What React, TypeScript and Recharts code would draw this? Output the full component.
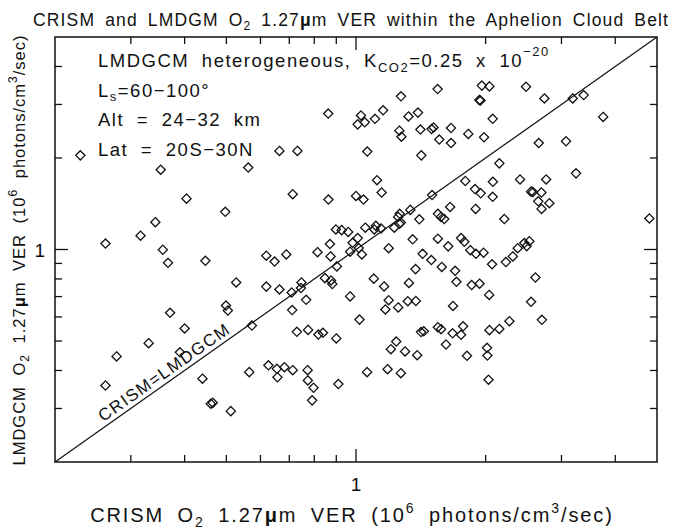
import { ReferenceArea, ReferenceLine, Scatter, ScatterChart, XAxis, YAxis } from "recharts";

// CRISM O2 1.27um VER (x) and LMDGCM VER (y), 10^6 photons/cm3/sec
const crismVer = [
  0.229, 0.352, 0.562, 0.664, 0.731, 0.862, 0.404, 0.497, 0.713, 0.863,
  0.342, 0.316, 0.898, 0.926, 0.959, 0.262, 0.356, 0.366, 0.447, 0.527,
  0.619, 0.647, 0.689, 0.814, 0.87, 0.873, 0.982, 0.969, 0.903, 0.847,
  0.875, 0.881, 0.747, 0.745, 0.709, 0.766, 0.619, 0.664, 0.711, 0.969,
  0.499, 0.504, 0.37, 0.4, 0.573, 0.729, 0.774, 0.818, 0.838, 0.9,
  0.33, 0.39, 0.278, 0.262, 0.44, 0.46, 0.465, 0.512, 0.565, 0.626,
  0.655, 0.682, 0.657, 0.713, 0.772, 0.773, 0.797, 0.791, 0.91,
  1.547, 1.272, 1.027, 1.009, 1.048, 1.107, 1.156, 1.324, 1.393, 1.261,
  1.275, 1.411, 1.498, 1.514, 1.662, 1.561, 1.662, 1.418, 1.062, 1.119,
  1.147, 1.0, 1.041, 1.502, 1.654, 1.337, 1.263, 1.253, 1.261, 1.271,
  1.403, 1.55, 1.575, 1.603, 1.051, 1.112, 1.103, 1.143, 1.227, 1.009,
  1.354, 1.549, 1.637,
  1.96, 2.041, 2.482, 1.934, 1.946, 2.738, 3.186, 3.378, 3.749, 2.077,
  1.823, 1.983, 2.657, 3.074, 2.152, 3.243, 1.794, 1.89, 1.948, 2.079,
  2.077, 2.404, 2.764, 2.55, 2.575, 2.695, 2.65, 2.812, 2.697, 1.896,
  2.21, 4.8, 1.754, 1.785, 2.46, 2.527,
  1.015, 1.032, 1.019, 1.191, 1.428, 1.496, 1.582, 1.699, 1.711, 1.375,
  1.1, 1.162, 1.327, 1.191, 1.17, 1.253, 1.319, 1.377, 1.68, 1.416,
  1.437, 1.549, 1.576, 1.676, 1.618, 1.24, 1.205, 1.3, 1.387, 1.061,
  1.184, 1.271,
  1.843, 1.899, 1.978, 2.07, 2.229, 2.313, 2.374, 2.491, 2.61, 2.55,
  2.702, 1.856, 1.936, 2.038, 1.773, 1.754, 2.041, 2.152, 2.271, 1.81,
  2.015, 2.019, 2.031,
];

const lmdgcmVer = [
  2.04, 1.83, 1.86, 2.11, 2.11, 2.8, 1.47, 1.33, 1.52, 1.46,
  1.23, 1.11, 1.164, 1.158, 1.142, 1.046, 0.998, 0.904, 0.918, 0.779,
  0.954, 0.913, 0.963, 0.98, 1.042, 0.949, 1.052, 0.983, 0.88, 0.805,
  0.791, 0.77, 0.779, 0.747, 0.722, 0.683, 0.755, 0.739, 0.632, 0.701,
  0.654, 0.63, 0.619, 0.55, 0.562, 0.536, 0.544, 0.525, 0.532, 0.51,
  0.492, 0.459, 0.445, 0.357, 0.376, 0.311, 0.313, 0.294, 0.395, 0.416,
  0.405, 0.41, 0.38, 0.401, 0.401, 0.371, 0.351, 0.319, 0.361,
  3.37, 3.19, 2.76, 2.58, 2.62, 2.69, 2.87, 2.74, 2.82, 2.46,
  2.35, 2.48, 2.49, 2.52, 2.51, 2.3, 2.24, 2.04, 2.1, 1.69,
  1.54, 1.5, 1.46, 1.51, 1.38, 1.35, 1.31, 1.28, 1.215, 1.226,
  1.257, 1.31, 1.28, 1.26, 1.18, 1.196, 1.164, 1.173, 1.18, 1.09,
  1.08, 1.085, 1.024,
  3.46, 3.44, 3.43, 3.1, 3.09, 3.14, 3.14, 3.22, 2.73, 2.69,
  2.4, 2.34, 2.24, 2.27, 1.92, 1.78, 1.68, 1.58, 1.53, 1.67,
  1.49, 1.7, 1.7, 1.55, 1.545, 1.54, 1.44, 1.42, 1.36, 1.36,
  1.26, 1.265, 1.09, 1.06, 1.05, 1.065,
  1.011, 0.963, 0.588, 1.01, 0.968, 0.923, 0.876, 0.851, 0.783, 0.862,
  0.802, 0.756, 0.776, 0.681, 0.635, 0.645, 0.676, 0.677, 0.652, 0.535,
  0.538, 0.555, 0.547, 0.53, 0.487, 0.498, 0.47, 0.462, 0.449, 0.395,
  0.404, 0.392,
  0.995, 0.968, 0.976, 0.894, 0.909, 0.949, 1.01, 1.026, 0.809, 0.673,
  0.587, 0.764, 0.772, 0.709, 0.559, 0.524, 0.543, 0.548, 0.581, 0.447,
  0.475, 0.448, 0.373,
];

const axisDomain = [0.2, 5];
const axisTicks = [0.3, 0.4, 0.5, 0.6, 0.7, 0.8, 0.9, 1, 2, 3, 4];
const labelledTicks = [1];

const points = crismVer.map((x, i) => ({ x, y: lmdgcmVer[i] }));

const W = 676;
const H = 532;
const X_AXIS_H = 30;
const Y_AXIS_W = 40;
// plot box: x 55..657, y 37..462
const M = { top: 37, right: 19, bottom: 70 - X_AXIS_H, left: 55 - Y_AXIS_W };
const PLOT_W = W - 55 - M.right;
const PLOT_H = H - M.top - 70;
const FONT = '"Liberation Sans", Arial, sans-serif';
const INK = "#111";

function XTick(props: any) {
  const { x, y, payload } = props;
  const major = labelledTicks.includes(payload.value);
  const len = major ? 13 : 7;
  const top = y - PLOT_H;
  return (
    <g>
      <line x1={x} x2={x} y1={y} y2={y - len} stroke={INK} strokeWidth={1.3} />
      <line x1={x} x2={x} y1={top} y2={top + len} stroke={INK} strokeWidth={1.3} />
      {major && (
        <text x={x} y={y + 29} textAnchor="middle" fontSize={19} fontFamily={FONT} fill={INK}>
          {payload.value}
        </text>
      )}
    </g>
  );
}

function YTick(props: any) {
  const { x, y, payload } = props;
  const major = labelledTicks.includes(payload.value);
  const len = major ? 13 : 7;
  const right = x + PLOT_W;
  return (
    <g>
      <line x1={x} x2={x + len} y1={y} y2={y} stroke={INK} strokeWidth={1.3} />
      <line x1={right} x2={right - len} y1={y} y2={y} stroke={INK} strokeWidth={1.3} />
      {major && (
        <text x={x - 10} y={y + 7} textAnchor="end" fontSize={19} fontFamily={FONT} fill={INK}>
          {payload.value}
        </text>
      )}
    </g>
  );
}

function Diamond({ cx, cy }: any) {
  const r = 4.6;
  return (
    <path
      d={`M${cx},${cy - r}L${cx + r},${cy}L${cx},${cy + r}L${cx - r},${cy}Z`}
      fill="none"
      stroke={INK}
      strokeWidth={1.3}
    />
  );
}

const txt = { fontFamily: FONT, fill: INK, letterSpacing: 1.5, wordSpacing: 6 } as const;

export default function App() {
  return (
    <div style={{ position: "absolute", left: 0, top: 0, width: W, height: H, background: "#fff" }}>
      <ScatterChart width={W} height={H} margin={M}>
        <XAxis
          dataKey="x"
          type="number"
          scale="log"
          domain={axisDomain}
          ticks={axisTicks}
          allowDataOverflow
          interval={0}
          height={X_AXIS_H}
          tickSize={0}
          tickMargin={0}
          axisLine={false}
          tickLine={false}
          tick={XTick}
        />
        <YAxis
          dataKey="y"
          type="number"
          scale="log"
          domain={axisDomain}
          ticks={axisTicks}
          allowDataOverflow
          interval={0}
          width={Y_AXIS_W}
          tickSize={0}
          tickMargin={0}
          axisLine={false}
          tickLine={false}
          tick={YTick}
        />
        <ReferenceArea
          x1={axisDomain[0]}
          x2={axisDomain[1]}
          y1={axisDomain[0]}
          y2={axisDomain[1]}
          fill="none"
          stroke={INK}
          strokeWidth={1.5}
          ifOverflow="visible"
        />
        <ReferenceLine
          segment={[
            { x: axisDomain[0], y: axisDomain[0] },
            { x: axisDomain[1], y: axisDomain[1] },
          ]}
          stroke={INK}
          strokeWidth={1.2}
          ifOverflow="visible"
        />
        <Scatter data={points} dataKey="y" shape={<Diamond />} isAnimationActive={false} />
      </ScatterChart>
      <svg
        width={W}
        height={H}
        style={{ position: "absolute", left: 0, top: 0, pointerEvents: "none" }}
      >
        <text x={33} y={26} fontSize={17.5} {...txt} letterSpacing={1.15} wordSpacing={4}>
          <tspan>CRISM and LMDGM O</tspan>
          <tspan fontSize={12} dy={4}>2</tspan>
          <tspan dy={-4}> 1.27</tspan>
          <tspan fontWeight="bold">μ</tspan>
          <tspan>m VER within the Aphelion Cloud Belt</tspan>
        </text>

        <text x={98} y={67} fontSize={18.5} {...txt}>
          <tspan>LMDGCM heterogeneous, K</tspan>
          <tspan fontSize={13} dy={5}>CO2</tspan>
          <tspan dy={-5}>=0.25 x 10</tspan>
          <tspan fontSize={13} dy={-11}>−20</tspan>
        </text>
        <text x={98} y={97} fontSize={18.5} {...txt}>
          <tspan>L</tspan>
          <tspan fontSize={13} dy={4}>s</tspan>
          <tspan dy={-4}>=60−100°</tspan>
        </text>
        <text x={98} y={126} fontSize={18.5} {...txt}>
          Alt = 24−32 km
        </text>
        <text x={98} y={156} fontSize={18.5} {...txt}>
          Lat = 20S−30N
        </text>

        <text
          x={167.5}
          y={377}
          fontSize={17}
          textAnchor="middle"
          transform="rotate(-35.2 167.5 377)"
          {...txt}
          letterSpacing={1.4}
        >
          CRISM=LMDGCM
        </text>

        <text x={352} y={522} fontSize={20} textAnchor="middle" {...txt} letterSpacing={1.9} wordSpacing={6}>
          <tspan>CRISM O</tspan>
          <tspan fontSize={14} dy={5}>2</tspan>
          <tspan dy={-5}> 1.27</tspan>
          <tspan fontWeight="bold">μ</tspan>
          <tspan>m VER (10</tspan>
          <tspan fontSize={14} dy={-9}>6</tspan>
          <tspan dy={9}> photons/cm</tspan>
          <tspan fontSize={14} dy={-9}>3</tspan>
          <tspan dy={9}>/sec)</tspan>
        </text>

        <text
          x={0}
          y={0}
          fontSize={16.5}
          textAnchor="middle"
          transform="translate(25 250) rotate(-90)"
          {...txt}
          letterSpacing={1}
          wordSpacing={5}
        >
          <tspan>LMDGCM O</tspan>
          <tspan fontSize={12} dy={4}>2</tspan>
          <tspan dy={-4}> 1.27</tspan>
          <tspan fontWeight="bold">μ</tspan>
          <tspan>m VER (10</tspan>
          <tspan fontSize={12} dy={-8}>6</tspan>
          <tspan dy={8}> photons/cm</tspan>
          <tspan fontSize={12} dy={-8}>3</tspan>
          <tspan dy={8}>/sec)</tspan>
        </text>
      </svg>
    </div>
  );
}
